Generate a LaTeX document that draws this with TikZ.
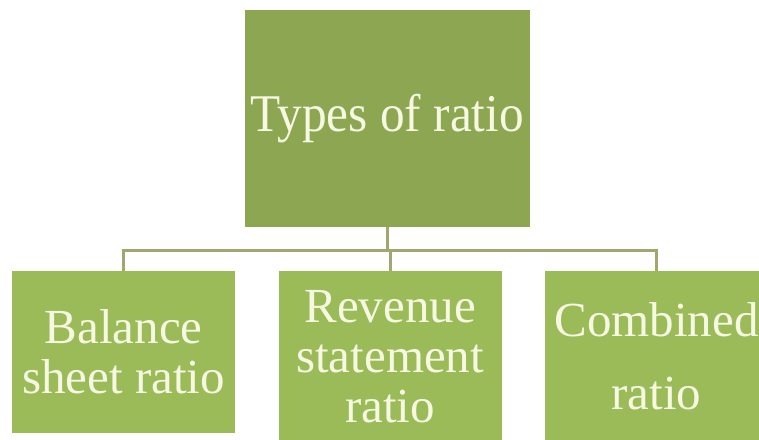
\documentclass[tikz,border=0pt]{standalone}
\usepackage{fontspec}
\setmainfont{Liberation Serif}
\newfontfamily\narrowserif[FakeStretch=0.93]{Liberation Serif}
\usepackage{xcolor}
\usetikzlibrary{positioning}

\definecolor{topgreen}{RGB}{140,166,82}
\definecolor{boxgreen}{RGB}{155,187,89}
\definecolor{textcream}{RGB}{246,248,226}
\definecolor{linkolive}{RGB}{163,166,112}

\begin{document}
\begin{tikzpicture}[x=1pt,y=-1pt,node distance=43pt,
    root/.style={fill=topgreen,text=textcream,minimum width=285pt,minimum height=217pt,
        inner sep=0pt,font=\narrowserif\fontsize{53}{55}\selectfont},
    leaf/.style={fill=boxgreen,text=textcream,minimum width=223pt,minimum height=170pt,
        inner sep=0pt,align=center,anchor=north west,font=\fontsize{49}{50}\selectfont},
    link/.style={draw=linkolive,line width=3pt}]
    \useasboundingbox (0,0) rectangle (759,439);
    \clip (0,0) rectangle (759,439);

    \node[root] (types) at (387.5,118.5) {Types of ratio};
    \node[leaf,minimum height=162pt] (bal) at (12,271) {Balance\\sheet ratio};
    \node[leaf] (rev) [right=of bal.north east,anchor=north west] {Revenue\\statement\\ratio};
    \node[leaf] (comb) [right=of rev.north east,anchor=north west] {Combined\\[23pt]ratio};
    \coordinate (fork) at (0,250);

    \path[link] (types.south) -- (types.south |- fork)
                (bal.north) |- (fork -| comb.north) -- (comb.north)
                (rev.north) -- (rev.north |- fork);
\end{tikzpicture}
\end{document}
